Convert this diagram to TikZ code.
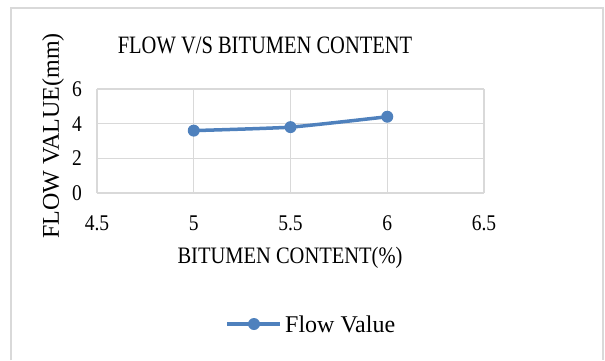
\documentclass[tikz,border=0pt]{standalone}
\usepackage{fontspec}
\setmainfont{Liberation Serif}
\usepackage{graphicx}
\usepackage{xcolor}
\definecolor{seriesblue}{HTML}{4F81BD}
\definecolor{gridgray}{HTML}{D9D9D9}
\newcommand{\tallish}[2]{\scalebox{1}[#1]{#2}}

\begin{document}
\begin{tikzpicture}[x=1pt,y=1pt,
  gridline/.style={draw=gridgray, line width=1.2pt},
  ticklabel/.style={inner sep=0pt, font=\fontsize{19.5}{21}\selectfont},
  axistitle/.style={inner sep=0pt, font=\fontsize{20.5}{24}\selectfont},
  datapt/.style={circle, fill=seriesblue, inner sep=0pt, minimum size=12pt},
  seriesline/.style={draw=seriesblue, line width=3.5pt}]
\useasboundingbox (0,0) rectangle (605,360);
% chart frame, open at the bottom
\draw[gridgray, line width=1.5pt] (11,0) -- (11,352) -- (603,352) -- (603,0);
\node[axistitle] (title) at (265,315) {\tallish{1.22}{FLOW V/S BITUMEN CONTENT}};

\begin{scope}[shift={(-773.75,167)}, x=193.5pt, y=17.333pt]
\foreach \xv [count=\i] in {4.5,5,5.5,6,6.5} {
  \draw[gridline] (\xv,0) -- (\xv,6);
  \node[ticklabel] (xt\i) at (\xv,-1.73) {\tallish{1.15}{\xv}};
}
\foreach \yv in {0,2,4,6} {
  \draw[gridline] (4.5,\yv) -- (6.5,\yv);
  \node[ticklabel, anchor=east, xshift=-15pt] (yt\yv) at (4.5,\yv) {\tallish{1.15}{\yv}};
}
% data
\coordinate (c1) at (5,3.6);
\coordinate (c2) at (5.5,3.8);
\coordinate (c3) at (6,4.4);
\draw[seriesline] plot[smooth, tension=0.3] coordinates {(c1) (c2) (c3)};
\node[datapt] (p1) at (c1) {};
\node[datapt] (p2) at (c2) {};
\node[datapt] (p3) at (c3) {};
\end{scope}

\node[axistitle] (xtitle) at (290,102) {\tallish{1.15}{BITUMEN CONTENT(\%)}};
\node[axistitle, rotate=90, font=\fontsize{24}{26}\selectfont] (ytitle) at (53,224) {FLOW VALUE(mm)};

% legend
\coordinate (legA) at (227,36);
\coordinate (legB) at (280,36);
\draw[seriesline] (legA) -- (legB);
\node[datapt] (legmark) at (254,36) {};
\node[inner sep=0pt, anchor=west, font=\fontsize{24}{26}\selectfont] (legtext) at (285,36) {Flow Value};
\end{tikzpicture}
\end{document}
